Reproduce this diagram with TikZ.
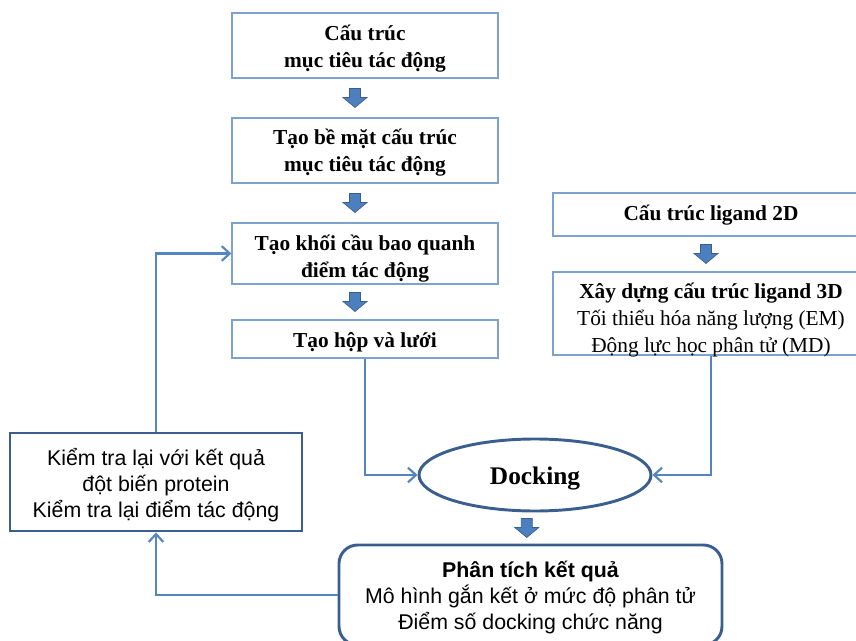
\documentclass[tikz,border=0pt]{standalone}
\usepackage{fontspec}
\setmainfont{Liberation Serif}
\newfontfamily\sansf{Liberation Sans}
\usetikzlibrary{shapes.geometric,calc,arrows.meta}
\definecolor{thinblue}{HTML}{7EA2CF}
\definecolor{darkblue}{HTML}{3A5F8E}
\definecolor{connblue}{HTML}{5585C2}
\definecolor{arrfill}{HTML}{4D7FBE}
\tikzset{
  thinbox/.style={draw=thinblue, line width=1pt, inner sep=0pt},
  thickbox/.style={draw=darkblue, line width=2.2pt, inner sep=0pt},
  serift/.style={align=center, inner sep=0pt, font=\fontsize{16}{20.25}\selectfont\bfseries},
  sanst/.style={align=center, inner sep=0pt, font=\sansf\fontsize{16}{19.5}\selectfont},
  conn/.style={draw=connblue, line width=2.2pt, -{Straight Barb[length=6pt,width=11pt,line width=1.6pt]}},
  barrow/.pic={
    \path[fill=arrfill, draw=darkblue, line width=0.5pt]
      (-5.5,0) -- (5.5,0) -- (5.5,9) -- (12,9) -- (0,19) -- (-12,9) -- (-5.5,9) -- cycle;
  }
}
\begin{document}
\begin{tikzpicture}[x=0.75pt,y=-0.75pt]
\useasboundingbox (0,0) rectangle (856,641);
\clip (0,0) rectangle (856,641);
% boxes
\node[thinbox, minimum width={266*0.75pt}, minimum height={65*0.75pt}] (b1) at (365,45.5) {};
\node[thinbox, minimum width={266*0.75pt}, minimum height={65*0.75pt}] (b2) at (365,150.5) {};
\node[thinbox, minimum width={266*0.75pt}, minimum height={61*0.75pt}] (b3) at (365,253.5) {};
\node[thinbox, minimum width={266*0.75pt}, minimum height={38*0.75pt}] (b4) at (365,339) {};
\node[thinbox, minimum width={316*0.75pt}, minimum height={43*0.75pt}] (b5) at (711,214.5) {};
\node[thinbox, minimum width={316*0.75pt}, minimum height={83*0.75pt}] (b6) at (711,313.5) {};
\node[thickbox, minimum width={292*0.75pt}, minimum height={98*0.75pt}] (chk) at (156,482) {};
\node[draw=darkblue, line width=2.2pt, ellipse, minimum width={232*0.75pt}, minimum height={72*0.75pt}, inner sep=0pt] (dock) at (535,475) {};
\node[thickbox, rounded corners=14pt, minimum width={383*0.75pt}, minimum height={100*0.75pt}] (res) at (530.5,595) {};
% texts
\node[serift] (t1) at ($(b1.center)+(0,3)$) {Cấu trúc\\mục tiêu tác động};
\node[serift] (t2) at ($(b2.center)+(0,2)$) {Tạo bề mặt cấu trúc\\mục tiêu tác động};
\node[serift] (t3) at ($(b3.center)+(0,5)$) {Tạo khối cầu bao quanh\\điểm tác động};
\node[serift] (t4) at ($(b4.center)+(0,3)$) {Tạo hộp và lưới};
\node[serift] (t5) at ($(b5.center)+(0,1)$) {Cấu trúc ligand 2D};
\node[serift, font=\fontsize{16}{20.25}\selectfont] (t6) at ($(b6.center)+(0,7)$) {\textbf{Xây dựng cấu trúc ligand 3D}\\Tối thiểu hóa năng lượng (EM)\\Động lực học phân tử (MD)};
\node[sanst] (tchk) at ($(chk.center)+(0,3)$) {Kiểm tra lại với kết quả\\đột biến protein\\Kiểm tra lại điểm tác động};
\node[serift, font=\fontsize{19}{22}\selectfont\bfseries] (tdock) at ($(dock.center)+(0,4)$) {Docking};
\node[sanst] (tres) at ($(res.center)+(0,3)$) {\textbf{Phân tích kết quả}\\Mô hình gắn kết ở mức độ phân tử\\Điểm số docking chức năng};
% block arrows
\pic at ($(b1.south)!0.5!(b2.north)+(-10,-9.5)$) {barrow};
\pic at ($(b2.south)!0.5!(b3.north)+(-10,-9.5)$) {barrow};
\pic at ($(b3.south)!0.5!(b4.north)+(-10,-9.5)$) {barrow};
\pic at ($(b5.south)!0.5!(b6.north)+(-5,-9.5)$) {barrow};
\pic at ($(dock.south)!0.5!(res.north)+(-6,-9.5)$) {barrow};
% connectors
\draw[conn] (b4.south) |- (dock.west);
\draw[conn] (b6.south) |- (dock.east);
\draw[conn] (res.west) -| (chk.south);
\draw[conn] (chk.north) |- (b3.west);
\end{tikzpicture}
\end{document}
